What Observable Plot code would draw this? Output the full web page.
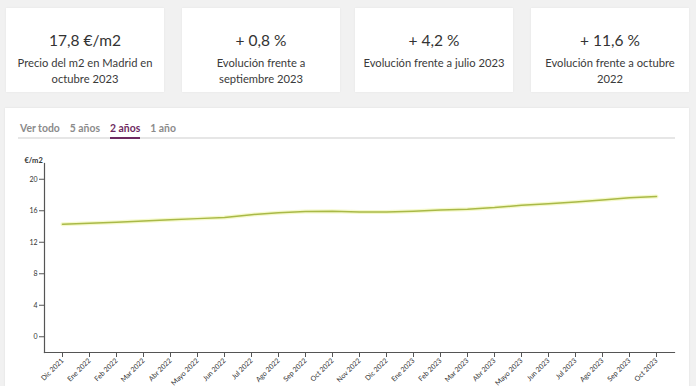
<!DOCTYPE html>
<html>
<head>
<meta charset="utf-8">
<script src="https://cdn.jsdelivr.net/npm/d3@7"></script>
<script src="https://cdn.jsdelivr.net/npm/@observablehq/plot@0.6"></script>
<style>
  html, body { margin: 0; padding: 0; }
  body { width: 696px; height: 386px; background: #f1f1f1; position: relative; overflow: hidden; font-family: Lato, "Noto Sans", sans-serif; color: #333; }
  .card { position: absolute; top: 8px; width: 158px; height: 84px; background: #fff; box-shadow: 0 0 2px rgba(0,0,0,0.06); text-align: center; }
  .card .val { position: absolute; left: 0; right: 0; top: 21px; font-size: 15.5px; line-height: 22px; color: #333; }
  .card .lab { position: absolute; left: 0; right: 0; top: 47px; font-size: 11.2px; line-height: 16px; color: #3a3a3a; }
  #panel { position: absolute; left: 5px; top: 108px; width: 684px; height: 300px; background: #fff; box-shadow: 0 0 2px rgba(0,0,0,0.08); }
  #tabs { position: absolute; left: 20px; top: 122px; font-size: 10.4px; font-weight: 700; color: #8b8b8b; white-space: nowrap; }
  #tabs span { display: inline-block; margin-right: 10px; padding-bottom: 3px; }
  #tabs span.on { color: #6e2a61; border-bottom: 2px solid #6e2a61; }
  #tabline { position: absolute; left: 18px; top: 137px; width: 657px; height: 2px; background: #e6e6e6; }
  #chart { position: absolute; left: 0; top: 150px; }
</style>
</head>
<body>
<div id="panel"></div>
<div id="tabline"></div>
<div id="tabs"></div>
<div id="chart"></div>
<script>
const kpiValues = ["17,8 €/m2", "+ 0,8 %", "+ 4,2 %", "+ 11,6 %"];
const kpiLabels = [
  ["Precio del m2 en Madrid en", "octubre 2023"],
  ["Evolución frente a", "septiembre 2023"],
  ["Evolución frente a julio 2023"],
  ["Evolución frente a octubre", "2022"]
];
const tabs = ["Ver todo", "5 años", "2 años", "1 año"];
const activeTab = "2 años";

const months = ["Dic 2021","Ene 2022","Feb 2022","Mar 2022","Abr 2022","Mayo 2022","Jun 2022","Jul 2022","Ago 2022","Sep 2022","Oct 2022","Nov 2022","Dic 2022","Ene 2023","Feb 2023","Mar 2023","Abr 2023","Mayo 2023","Jun 2023","Jul 2023","Ago 2023","Sep 2023","Oct 2023"];
const prices = [14.3,14.4,14.55,14.7,14.85,15.0,15.15,15.5,15.75,15.9,15.95,15.85,15.85,15.95,16.1,16.2,16.4,16.7,16.9,17.1,17.35,17.65,17.8];
const yTicks = [0,4,8,12,16,20];
const yUnit = "€/m2";

const cardLefts = [6, 182, 355, 531];
kpiValues.forEach((v, i) => {
  const c = document.createElement("div");
  c.className = "card";
  c.style.left = cardLefts[i] + "px";
  const a = document.createElement("div"); a.className = "val"; a.textContent = v;
  const b = document.createElement("div"); b.className = "lab"; b.innerHTML = kpiLabels[i].join("<br>");
  c.appendChild(a); c.appendChild(b);
  document.body.appendChild(c);
});
const tabsEl = document.getElementById("tabs");
tabs.forEach(t => {
  const s = document.createElement("span");
  s.textContent = t;
  if (t === activeTab) s.className = "on";
  tabsEl.appendChild(s);
});

const data = months.map((m, i) => ({month: m, value: prices[i]}));

const chart = Plot.plot({
  width: 696,
  height: 236,
  marginLeft: 44,
  marginRight: 22,
  marginTop: 13,
  marginBottom: 34,
  style: {fontFamily: "Lato, 'Noto Sans', sans-serif", fontSize: "7px", color: "#333", background: "transparent"},
  x: {type: "point", domain: months, padding: 0.5},
  y: {domain: [-2, 22]},
  marks: [
    Plot.axisY({ticks: yTicks, tickSize: 5, tickPadding: 2, label: null, stroke: "#555"}),
    Plot.axisX({tickRotate: -45, tickSize: 5, tickPadding: 2, label: null, stroke: "#555"}),
    Plot.frame({anchor: "left", stroke: "#555", strokeWidth: 1.2}),
    Plot.frame({anchor: "bottom", stroke: "#555", strokeWidth: 1.2}),
    Plot.text([yUnit], {frameAnchor: "top-left", textAnchor: "start", dx: -20, dy: -6, fontSize: 7.5, fontWeight: "bold", fill: "#333"}),
    Plot.line(data, {x: "month", y: "value", stroke: "#eef5a8", strokeWidth: 4, strokeOpacity: 0.6}),
    Plot.line(data, {x: "month", y: "value", stroke: "#a9b947", strokeWidth: 1.5})
  ]
});
document.getElementById("chart").appendChild(chart);
</script>
</body>
</html>
